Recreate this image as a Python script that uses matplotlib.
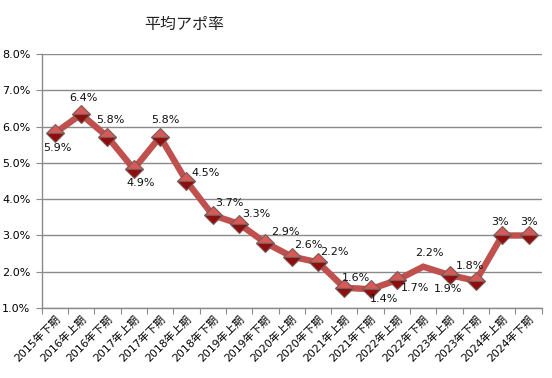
import matplotlib
matplotlib.use('Agg')
import matplotlib.pyplot as plt
from matplotlib.ticker import FuncFormatter

plt.rcParams['font.family'] = ['DejaVu Sans', 'Noto Sans CJK JP']

# データ
periods = ['2015年下期', '2016年上期', '2016年下期', '2017年上期', '2017年下期',
           '2018年上期', '2018年下期', '2019年上期', '2019年下期', '2020年上期',
           '2020年下期', '2021年上期', '2021年下期', '2022年上期', '2022年下期',
           '2023年上期', '2023年下期', '2024年上期', '2024年下期']
rates = [5.82, 6.34, 5.72, 4.83, 5.72, 4.50, 3.56, 3.32, 2.80, 2.42,
         2.26, 1.56, 1.52, 1.77, 2.14, 1.91, 1.75, 3.0, 3.0]
labels = ['5.9%', '6.4%', '5.8%', '4.9%', '5.8%', '4.5%', '3.7%', '3.3%', '2.9%', '2.6%',
          '2.2%', '1.6%', '1.4%', '1.7%', '2.2%', '1.9%', '1.8%', '3%', '3%']

# ラベル位置 (px)
offsets = [(3, -15), (2, 16), (3, 17), (7, -14), (5, 17), (19, 8), (17, 12), (17, 10),
           (20, 11), (17, 12), (16, 10), (12, 10), (13, -10), (18, -8), (6, 14),
           (-2, -14), (-6, 15), (-2, 13), (0, 13)]
no_marker = [14]

fig = plt.figure(figsize=(5.52, 3.78), dpi=100)
ax = fig.add_axes([0.0755, 0.185, 0.9058, 0.672])

x = list(range(len(periods)))
marks = [i for i in x if i not in no_marker]

ax.plot(x, rates, color='#C0504D', lw=4.6, solid_joinstyle='miter', zorder=3)
ax.plot(x, rates, ls='none', marker='D', markersize=9.5, markevery=marks,
        fillstyle='top', markerfacecolor='#D65A57', markerfacecoloralt='#8E0E0E',
        markeredgecolor='#7A5A5A', markeredgewidth=0.8, zorder=4)

for i in x:
    ax.annotate(labels[i], (i, rates[i]), xytext=offsets[i], textcoords='offset pixels',
                ha='center', va='center', fontsize=8, color='#111111', zorder=5)

ax.set_xlim(-0.5, len(periods) - 0.5)
ax.set_ylim(1.0, 8.0)
ax.set_yticks([1, 2, 3, 4, 5, 6, 7, 8])
ax.yaxis.set_major_formatter(FuncFormatter(lambda v, p: '%.1f%%' % v))
ax.grid(axis='y', color='#8A8A8A', lw=1.0, zorder=1)
ax.set_axisbelow(True)

ax.set_xticks([i - 0.5 for i in x] + [len(periods) - 0.5])
ax.set_xticklabels([])
ax.set_xticks(x, minor=True)
ax.set_xticklabels(periods, minor=True, rotation=45, ha='right', va='top',
                   rotation_mode='anchor', fontsize=7.8)
ax.tick_params(axis='x', which='minor', length=0, pad=4)
ax.tick_params(axis='x', which='major', length=4, color='#8A8A8A', direction='out')
ax.tick_params(axis='y', length=4, color='#8A8A8A', labelsize=8, pad=4)

for s in ['top', 'right']:
    ax.spines[s].set_visible(False)
for s in ['left', 'bottom']:
    ax.spines[s].set_color('#8A8A8A')
    ax.spines[s].set_linewidth(1.0)

fig.text(0.334, 0.935, '平均アポ率', ha='center', va='center', fontsize=11.5,
         family=['Noto Sans CJK JP'], color='#222222')

fig.savefig('out.png', dpi=100)
